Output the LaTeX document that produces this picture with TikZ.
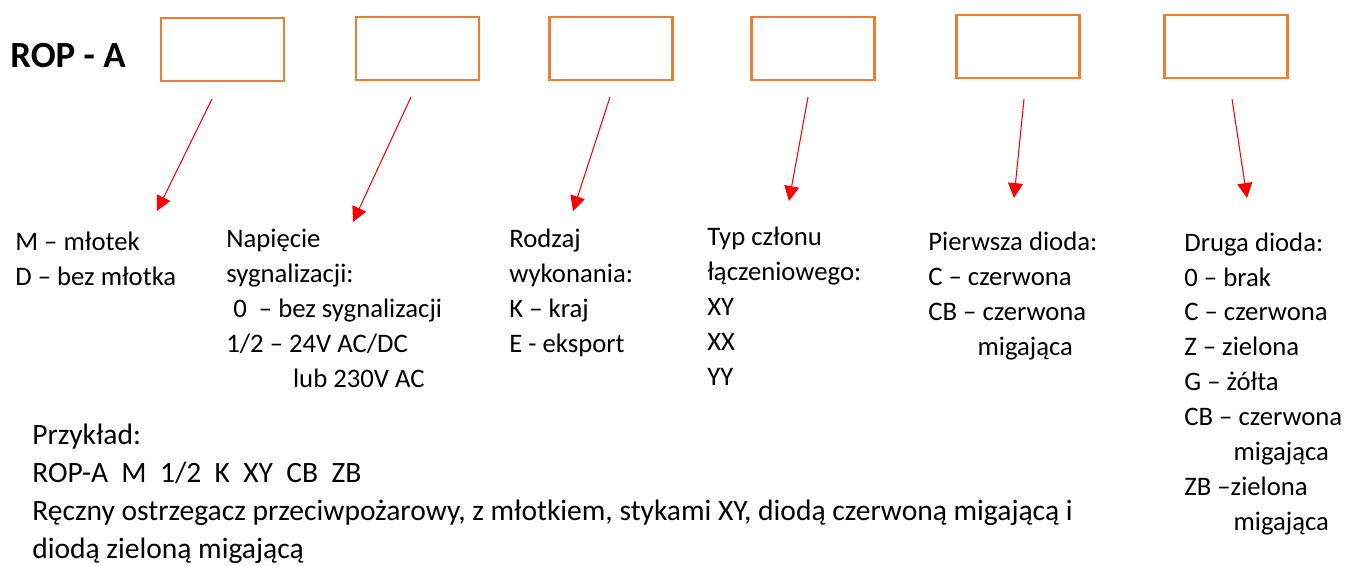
\documentclass[tikz,border=0pt]{standalone}
\usepackage{fontspec}
\setmainfont{Carlito}
\usetikzlibrary{arrows.meta}
\definecolor{boxorange}{HTML}{ED7D31}
\tikzset{
  codebox/.style={draw=boxorange, line width=1.4pt, minimum width=2.46cm, minimum height=1.26cm, inner sep=0pt},
  pointer/.style={red, line width=0.6pt, -{Triangle[length=8.5pt,width=8.5pt]}},
  legend/.style={anchor=base west, align=left, inner sep=0pt, font=\fontsize{15.2}{19.84}\selectfont},
}
\begin{document}
\begin{tikzpicture}[x=0.02cm, y=-0.02cm]
\useasboundingbox (0,0) rectangle (1354,565);

\node[anchor=base west, inner sep=0pt, font=\fontsize{21}{25}\selectfont\bfseries] (title) at (10,67) {ROP - A};

\node[codebox] (b1) at (222.5,49.5) {};
\node[codebox] (b2) at (417.5,48.5) {};
\node[codebox] (b3) at (611,48.5) {};
\node[codebox] (b4) at (813,48.5) {};
\node[codebox] (b5) at (1018,46.5) {};
\node[codebox] (b6) at (1226,46.5) {};

\foreach \n/\sx/\sy/\ex/\ey in {1/212/99/157/211, 2/411/97/353/222, 3/610/97/573/211,
                                 4/808/97/789/201, 5/1024/99/1014/198, 6/1232/99/1247/198} {
  \coordinate (s\n) at (\sx,\sy);
  \coordinate (e\n) at (\ex,\ey);
  \draw[pointer] (s\n) -- (e\n);
}

% base west = baseline of the last line
\node[legend] (hammer) at (15,285) {M -- młotek\\D -- bez młotka};
\node[legend] (voltage) at (226,387) {Napięcie\\sygnalizacji:\\\hspace*{4pt}0\ \ -- bez sygnalizacji\\1/2 -- 24V AC/DC\\\hspace*{38pt}lub 230V AC};
\node[legend] (variant) at (509,352) {Rodzaj\\wykonania:\\K -- kraj\\E - eksport};
\node[legend] (contact) at (707,385) {Typ członu\\łączeniowego:\\XY\\XX\\YY};
\node[legend] (diodeA) at (928,355) {Pierwsza dioda:\\C -- czerwona\\CB -- czerwona\\\hspace*{28pt}migająca};
\node[legend] (diodeB) at (1184,530) {Druga dioda:\\0 -- brak\\C -- czerwona\\Z -- zielona\\G -- żółta\\CB -- czerwona\\\hspace*{28pt}migająca\\ZB --zielona\\\hspace*{28pt}migająca};

\node[legend, font=\fontsize{16.8}{21.5}\selectfont] (example) at (32,558) {Przykład:\\ROP-A\ \ M\ \ 1/2\ \ K\ \ XY\ \ CB\ \ ZB\\Ręczny ostrzegacz przeciwpożarowy, z młotkiem, stykami XY, diodą czerwoną migającą i\\diodą zieloną migającą};

\end{tikzpicture}
\end{document}
